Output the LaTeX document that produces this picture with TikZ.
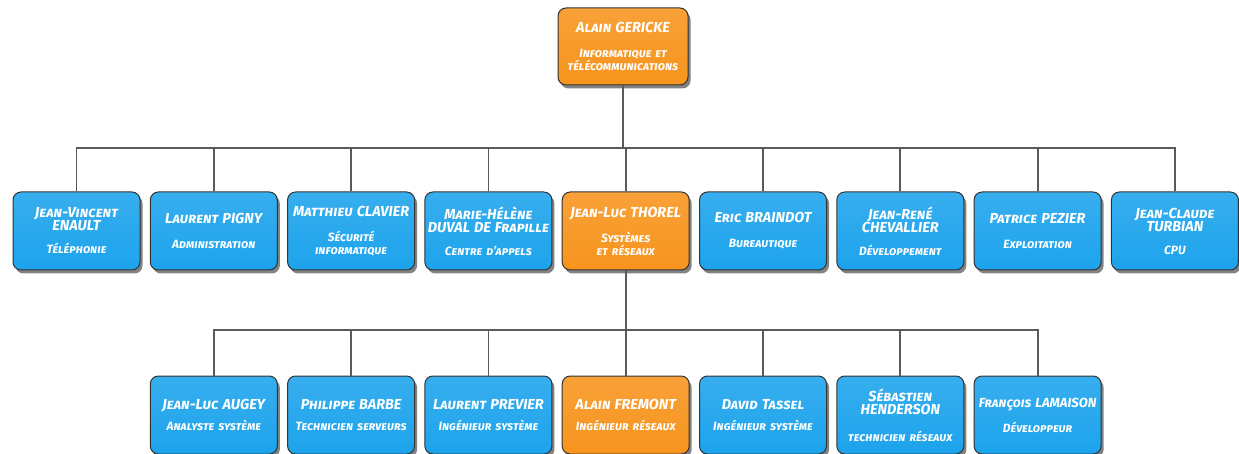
\documentclass[tikz,border=0pt]{standalone}
\usepackage{fontspec}
\setmainfont{Fira Sans}
\usetikzlibrary{positioning,shadows}
\definecolor{SkyBox}{HTML}{1CA3EC}
\definecolor{OrangeBox}{HTML}{F7941D}
\definecolor{LinkGray}{HTML}{5A5A5A}
\newcommand{\pname}[1]{{\fontsize{14.5}{12.5}\selectfont #1}}
\tikzset{
  % Staff box: fixed size, coloured
  staff/.style={
    rectangle, rounded corners=8pt,
    draw=black!80, line width=1pt,
    top color=#1!88!white, bottom color=#1,
    text=white, text width=123pt, inner xsep=2pt,
    minimum width=127pt, minimum height=78pt,
    align=center, font=\fontsize{12}{13}\selectfont\bfseries\itshape\scshape,
    drop shadow={shadow xshift=2.5pt, shadow yshift=-3.5pt, fill=black!65, opacity=.75}
  },
  % Org chart connector
  link/.style={draw=LinkGray, line width=1.8pt}
}

\begin{document}
\begin{tikzpicture}[x=1pt, y=1pt, node distance=9.3pt]
  \useasboundingbox (0,0) rectangle (1239,-454);

  % Head
  \node[staff=OrangeBox, minimum width=130pt, text width=126pt, minimum height=77pt] (gericke) at (623,-46.5)
    {\pname{Alain GERICKE}\\[12pt]Informatique et\\télécommunications};

  % First level
  \node[staff=SkyBox] (enault) at (76.5,-231) {\pname{Jean-Vincent\\ENAULT}\\[10pt]Téléphonie};
  \node[staff=SkyBox, right=of enault]   (pigny)   {\pname{Laurent PIGNY}\\[12pt]Administration};
  \node[staff=SkyBox, right=of pigny]    (clavier) {\pname{Matthieu CLAVIER}\\[12pt]Sécurité\\informatique};
  \node[staff=SkyBox, right=of clavier]  (duval)   {\pname{Marie-Hélène\\DUVAL DE Frapille}\\[10pt]Centre d'appels};
  \node[staff=OrangeBox, right=of duval] (thorel)  {\pname{Jean-Luc THOREL}\\[12pt]Systèmes\\et réseaux};
  \node[staff=SkyBox, right=of thorel]   (braindot){\pname{Eric BRAINDOT}\\[12pt]Bureautique};
  \node[staff=SkyBox, right=of braindot] (chevallier){\pname{Jean-René\\CHEVALLIER}\\[10pt]Développement};
  \node[staff=SkyBox, right=of chevallier](pezier) {\pname{Patrice PEZIER}\\[12pt]Exploitation};
  \node[staff=SkyBox, right=of pezier]   (turbian) {\pname{Jean-Claude\\TURBIAN}\\[10pt]CPU};

  % Second level
  \node[staff=OrangeBox, below=105pt of thorel] (fremont) {\pname{Alain FREMONT}\\[8pt]Ingénieur réseaux};
  \node[staff=SkyBox, left=of fremont]  (previer)   {\pname{Laurent PREVIER}\\[8pt]Ingénieur système};
  \node[staff=SkyBox, left=of previer]  (barbe)     {\pname{Philippe BARBE}\\[8pt]Technicien serveurs};
  \node[staff=SkyBox, left=of barbe]    (augey)     {\pname{Jean-Luc AUGEY}\\[8pt]Analyste système};
  \node[staff=SkyBox, right=of fremont] (tassel)    {\pname{David Tassel}\\[8pt]Ingénieur système};
  \node[staff=SkyBox, right=of tassel]  (henderson) {\pname{Sébastien\\HENDERSON}\\[14pt]technicien réseaux};
  \node[staff=SkyBox, right=of henderson] (lamaison){\pname{\fontsize{13.2}{12.5}\selectfont François LAMAISON}\\[10pt]Développeur};

  % Bus points
  \coordinate (bus1) at (623,-148);
  \coordinate (bus2) at (623,-330);

  % Connectors
  \draw[link] (gericke) -- (bus1);
  \draw[link] (thorel) -- (fremont);
  \foreach \n in {enault,pigny,clavier,duval,thorel,braindot,chevallier,pezier,turbian}
    \draw[link] (\n.north) |- (bus1);
  \foreach \n in {augey,barbe,previer,tassel,henderson,lamaison}
    \draw[link] (\n.north) |- (bus2);
\end{tikzpicture}
\end{document}
